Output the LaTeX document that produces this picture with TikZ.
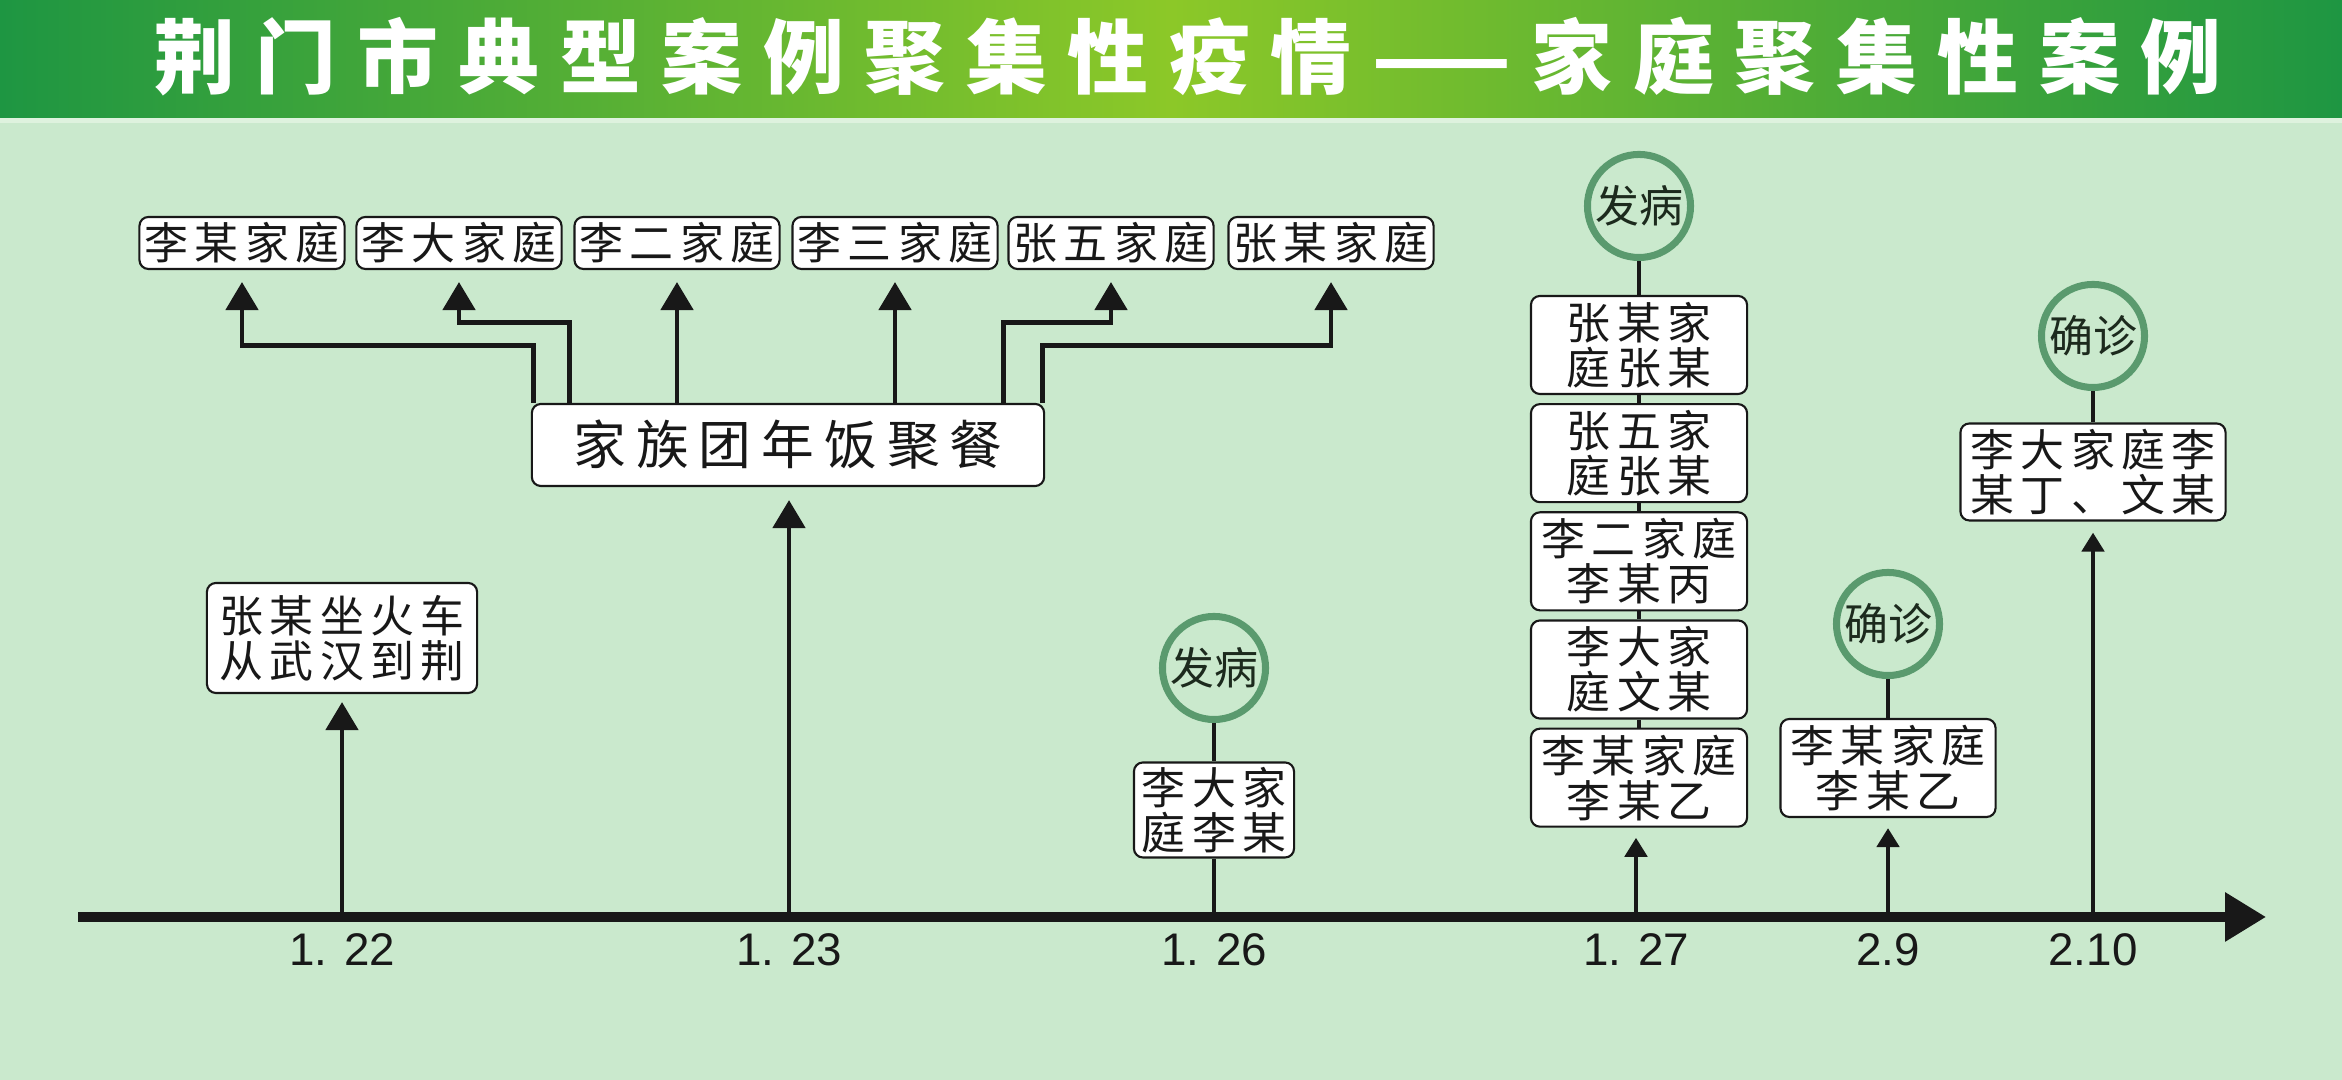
\documentclass[tikz,border=0pt]{standalone}
\usepackage{fontspec}
\setmainfont{Noto Sans CJK SC}
\newfontfamily\boxfont[LetterSpace=14]{Noto Sans CJK SC}
\newfontfamily\dinnerfont[LetterSpace=19]{Noto Sans CJK SC}
\newfontfamily\titlefont[LetterSpace=25.5]{Noto Sans CJK SC}
\newfontfamily\datefont{Liberation Sans}
\usetikzlibrary{arrows.meta, positioning}

\definecolor{bggreen}{RGB}{202,233,205}
\definecolor{barline}{RGB}{222,242,222}
\definecolor{bardark}{RGB}{30,150,66}
\definecolor{barlight}{RGB}{140,200,40}
\definecolor{ringgreen}{RGB}{90,154,110}
\definecolor{inkdark}{RGB}{24,24,24}
\definecolor{stagetext}{RGB}{28,42,29}

\tikzset{
  event/.style={draw=inkdark, line width=0.6pt, fill=white, rounded corners=0.09cm,
    inner sep=0pt, align=center, text=inkdark,
    font=\boxfont\fontsize{12.5}{12.8}\selectfont},
  family/.style={event, minimum width=2.05cm, minimum height=0.52cm},
  person/.style={event, minimum width=2.16cm, minimum height=0.98cm},
  stage/.style={circle, draw=ringgreen, line width=2pt, fill=bggreen, minimum size=1.03cm,
    inner sep=0pt, text=stagetext, font=\fontsize{12.5}{12.8}\selectfont},
  link/.style={draw=inkdark, line width=1.4pt},
  bigtip/.style={-{Triangle[length=0.28cm, width=0.32cm]}},
  smalltip/.style={-{Triangle[length=0.19cm, width=0.22cm]}},
  datelabel/.style={text=inkdark, font=\datefont\fontsize{13}{13}\selectfont}
}

\begin{document}
\begin{tikzpicture}[x=0.01cm, y=0.01cm]
  % Background and title bar
  \useasboundingbox (0,0) rectangle (2342,1080);
  \fill[bggreen] (0,0) rectangle (2342,1080);
  \shade[left color=bardark, right color=bardark, middle color=barlight] (0,962) rectangle (2342,1080);
  \fill[barline] (0,957) rectangle (2342,962);
  \node[text=white, font=\titlefont\bfseries\fontsize{23}{23}\selectfont]
    (title) at (1188,1023) {荆门市典型案例聚集性疫情——家庭聚集性案例};

  % Time axis with dates
  \coordinate (start) at (78,163);
  \coordinate (end) at (2266,163);
  \draw[inkdark, line width=2.7pt, -{Triangle[length=0.41cm, width=0.47cm]}] (start) -- (end);
  \coordinate (t122) at (342,163);
  \coordinate (t123) at (789,163);
  \coordinate (t126) at (1214,163);
  \coordinate (t127) at (1636,163);
  \coordinate (t29) at (1888,163);
  \coordinate (t210) at (2093,163);
  \node[datelabel] (d122) at (342,130) {1. 22};
  \node[datelabel] (d123) at (789,130) {1. 23};
  \node[datelabel] (d126) at (1214,130) {1. 26};
  \node[datelabel] (d127) at (1636,130) {1. 27};
  \node[datelabel] (d29) at (1888,130) {2.9};
  \node[datelabel] (d210) at (2093,130) {2.10};

  % 1.22 arrival by train
  \node[event, minimum width=2.7cm, minimum height=1.1cm] (train) at (342,442) {张某坐火车\\从武汉到荆};
  \draw[link, bigtip, shorten >=0.08cm] (t122) -- (t122 |- train.south);

  % 1.23 family dinner
  \node[event, minimum width=5.12cm, minimum height=0.82cm, font=\dinnerfont\fontsize{15}{15}\selectfont]
    (dinner) at (788,635) {家族团年饭聚餐};
  \draw[link, bigtip, shorten >=0.13cm] (t123) -- (t123 |- dinner.south);

  % Families at the dinner
  \node[family] (fam1) at (242,837) {李某家庭};
  \node[family] (fam2) at (459,837) {李大家庭};
  \node[family] (fam3) at (677,837) {李二家庭};
  \node[family] (fam4) at (895,837) {李三家庭};
  \node[family] (fam5) at (1111,837) {张五家庭};
  \node[family] (fam6) at (1331,837) {张某家庭};
  \draw[link, bigtip, shorten >=0.12cm] ([xshift=0.03cm]dinner.north west) -- ++(0,57) -| (fam1.south);
  \draw[link, bigtip, shorten >=0.12cm] ([xshift=0.39cm]dinner.north west) -- ++(0,80) -| (fam2.south);
  \draw[link, bigtip, shorten >=0.12cm] (fam3.south |- dinner.north) -- (fam3.south);
  \draw[link, bigtip, shorten >=0.12cm] (fam4.south |- dinner.north) -- (fam4.south);
  \draw[link, bigtip, shorten >=0.12cm] ([xshift=-0.42cm]dinner.north east) -- ++(0,80) -| (fam5.south);
  \draw[link, bigtip, shorten >=0.12cm] ([xshift=-0.03cm]dinner.north east) -- ++(0,57) -| (fam6.south);

  % 1.26 onset
  \node[stage] (sick1) at (1214,412) {发病};
  \node[event, minimum width=1.6cm, minimum height=0.95cm] (lida) at (1214,270) {李大家\\庭李某};
  \draw[link] (sick1) -- (lida);
  \draw[link] (t126) -- (t126 |- lida.south);

  % 1.27 onset
  \node[stage] (sick2) at (1639,874) {发病};
  \node[person] (zhang1) at (1639,735) {张某家\\庭张某};
  \node[person, below=0.08cm of zhang1] (zhang5) {张五家\\庭张某};
  \node[person, below=0.08cm of zhang5] (lier) {李二家庭\\李某丙};
  \node[person, below=0.08cm of lier] (wen) {李大家\\庭文某};
  \node[person, below=0.08cm of wen] (liyi1) {李某家庭\\李某乙};
  \draw[link] (sick2) -- (zhang1) -- (zhang5) -- (lier) -- (wen) -- (liyi1);
  \draw[link, smalltip, shorten >=0.1cm] (t127) -- (t127 |- liyi1.south);

  % 2.9 confirmed
  \node[stage] (conf1) at (1888,456) {确诊};
  \node[person, minimum width=2.15cm] (liyi2) at (1888,312) {李某家庭\\李某乙};
  \draw[link] (conf1) -- (liyi2);
  \draw[link, smalltip, shorten >=0.1cm] (t29) -- (t29 |- liyi2.south);

  % 2.10 confirmed
  \node[stage] (conf2) at (2093,744) {确诊};
  \node[event, minimum width=2.65cm, minimum height=0.97cm] (liding) at (2093,608) {李大家庭李\\某丁、文某};
  \draw[link] (conf2) -- (liding);
  \draw[link, smalltip, shorten >=0.11cm] (t210) -- (t210 |- liding.south);
\end{tikzpicture}
\end{document}
